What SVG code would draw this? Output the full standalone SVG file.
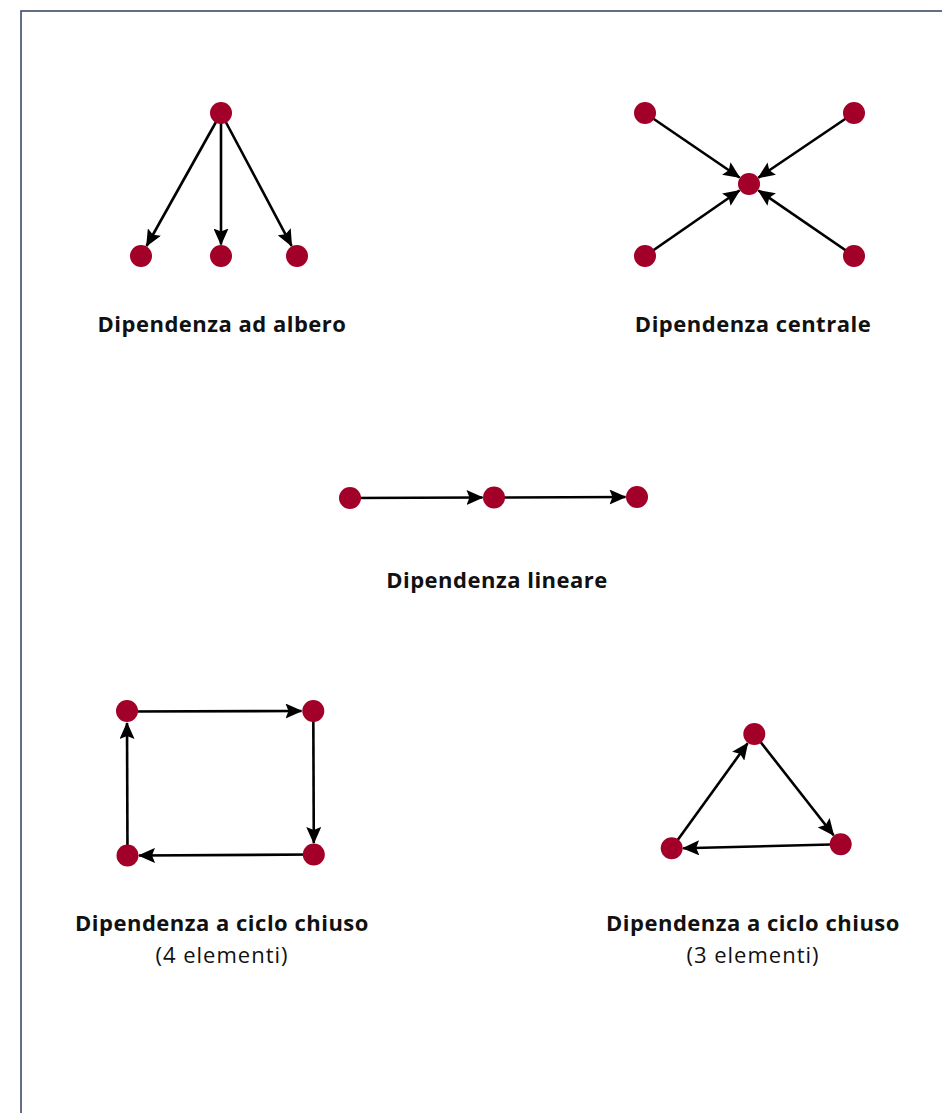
<svg xmlns="http://www.w3.org/2000/svg" width="942" height="1113" viewBox="0 0 942 1113">
<style>
.node{fill:#A20029;}
.edge{stroke:#000;stroke-width:2.6;fill:none;marker-end:url(#arr);}
.t{font-family:"Open Sans","Noto Sans","Liberation Sans",sans-serif;font-size:22px;fill:#111;text-anchor:middle;letter-spacing:0.5px;}
.b{font-weight:bold;}
.r{letter-spacing:1px;}
</style>
<defs>
<marker id="arr" markerUnits="userSpaceOnUse" markerWidth="17" markerHeight="15" viewBox="0 0 17 15" refX="16" refY="7.5" orient="auto">
<path d="M0,0 L17,7.5 L0,15 L3,7.5 z" fill="#000"/>
</marker>
</defs>
<rect x="0" y="0" width="942" height="1113" fill="#fff"/>
<rect x="21" y="11" width="1000" height="1200" fill="none" stroke="#3d4a6c" stroke-width="1.6"/>
<g id="connectors">
<line class="edge" x1="221" y1="113" x2="146.6" y2="246"/>
<line class="edge" x1="221" y1="113" x2="221" y2="244.5"/>
<line class="edge" x1="221" y1="113" x2="291.6" y2="245.8"/>
<line class="edge" x1="645" y1="113" x2="739.5" y2="177.5"/>
<line class="edge" x1="854" y1="113" x2="758.5" y2="177.6"/>
<line class="edge" x1="645" y1="256" x2="739.5" y2="190.5"/>
<line class="edge" x1="854" y1="256" x2="758.5" y2="190.5"/>
<line class="edge" x1="350" y1="498" x2="482.5" y2="497.5"/>
<line class="edge" x1="494" y1="497.5" x2="625.5" y2="497"/>
<line class="edge" x1="127" y1="711.5" x2="301.5" y2="711"/>
<line class="edge" x1="313.3" y1="711" x2="313.8" y2="843"/>
<line class="edge" x1="313.8" y1="854.5" x2="139" y2="855.5"/>
<line class="edge" x1="127.5" y1="855.5" x2="127" y2="723"/>
<line class="edge" x1="671.7" y1="848.3" x2="747.6" y2="743.3"/>
<line class="edge" x1="754.3" y1="734" x2="833.6" y2="835.3"/>
<line class="edge" x1="840.7" y1="844.3" x2="683.2" y2="848.2"/>
</g>
<g id="tree">
<circle id="tree-root" class="node" cx="221" cy="113" r="11"/>
<circle id="tree-a" class="node" cx="141" cy="256" r="11"/>
<circle id="tree-b" class="node" cx="221" cy="256" r="11"/>
<circle id="tree-c" class="node" cx="297" cy="256" r="11"/>
<text class="t b" x="222" y="332">Dipendenza ad albero</text>
</g>
<g id="central">
<circle id="central-tl" class="node" cx="645" cy="113" r="11"/>
<circle id="central-tr" class="node" cx="854" cy="113" r="11"/>
<circle id="central-c" class="node" cx="749" cy="184" r="11"/>
<circle id="central-bl" class="node" cx="645" cy="256" r="11"/>
<circle id="central-br" class="node" cx="854" cy="256" r="11"/>
<text class="t b" x="753" y="332">Dipendenza centrale</text>
</g>
<g id="linear">
<circle id="linear-a" class="node" cx="350" cy="498" r="11"/>
<circle id="linear-b" class="node" cx="494" cy="497.5" r="11"/>
<circle id="linear-c" class="node" cx="637" cy="497" r="11"/>
<text class="t b" x="497" y="588">Dipendenza lineare</text>
</g>
<g id="cycle4">
<circle id="c4-tl" class="node" cx="127" cy="711" r="11"/>
<circle id="c4-tr" class="node" cx="313.3" cy="711" r="11"/>
<circle id="c4-br" class="node" cx="313.8" cy="854.5" r="11"/>
<circle id="c4-bl" class="node" cx="127.5" cy="855.5" r="11"/>
<text class="t b" x="222" y="931">Dipendenza a ciclo chiuso</text>
<text class="t r" x="222" y="963">(4 elementi)</text>
</g>
<g id="cycle3">
<circle id="c3-top" class="node" cx="754.3" cy="734" r="11"/>
<circle id="c3-br" class="node" cx="840.7" cy="844.3" r="11"/>
<circle id="c3-bl" class="node" cx="671.7" cy="848.3" r="11"/>
<text class="t b" x="753" y="931">Dipendenza a ciclo chiuso</text>
<text class="t r" x="753" y="963">(3 elementi)</text>
</g>
</svg>
